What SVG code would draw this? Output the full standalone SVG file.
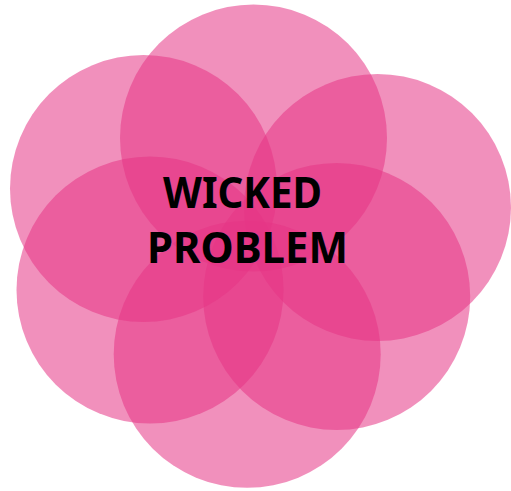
<svg xmlns="http://www.w3.org/2000/svg" width="511" height="491" viewBox="0 0 511 491">
<style>
.c{fill:#E63585;fill-opacity:0.55}
.t{font-family:"Noto Sans","Open Sans","Liberation Sans",sans-serif;font-weight:bold;font-size:43px;fill:#000}
</style>
<rect width="511" height="491" fill="#fff"/>
<g id="circles">
<g id="c-top"><circle class="c" cx="253.5" cy="138" r="133.5"/></g>
<g id="c-upper-right"><circle class="c" cx="377.5" cy="207.5" r="133.5"/></g>
<g id="c-lower-right"><circle class="c" cx="336.7" cy="296.5" r="133.5"/></g>
<g id="c-bottom"><circle class="c" cx="247.2" cy="354.3" r="133.5"/></g>
<g id="c-lower-left"><circle class="c" cx="150" cy="290" r="133.5"/></g>
<g id="c-upper-left"><circle class="c" cx="143.5" cy="188.5" r="133.5"/></g>
</g>
<g id="label">
<text class="t" x="163" y="207.5" textLength="159" lengthAdjust="spacingAndGlyphs">WICKED</text>
<text class="t" x="147" y="263" textLength="201" lengthAdjust="spacingAndGlyphs">PROBLEM</text>
</g>
</svg>
